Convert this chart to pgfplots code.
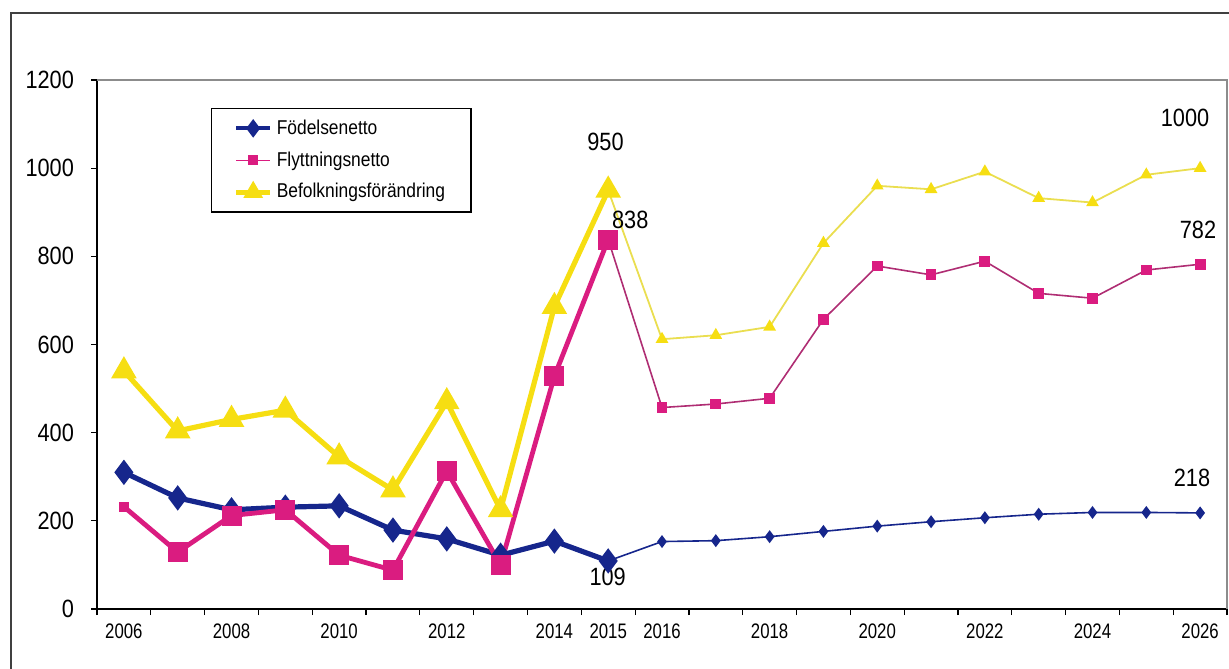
\documentclass[border=0pt]{standalone}
\usepackage{fontspec}
\setmainfont{Liberation Sans}
\newfontfamily\cnd[FakeStretch=0.87]{Liberation Sans}
\newfontfamily\cndx[FakeStretch=0.80]{Liberation Sans}
\usepackage{pgfplots}
\usepackage{pgfplotstable}
\pgfplotsset{compat=1.18}
\definecolor{cblue}{RGB}{22,38,140}
\definecolor{cmag}{RGB}{218,28,128}
\definecolor{cmagl}{RGB}{175,45,115}
\definecolor{cyel}{RGB}{246,222,18}
\definecolor{cyell}{RGB}{234,222,80}

\pgfplotstableread{
x fod fly bef
0 310 232 540
1 252 129 404
2 225 212 430
3 231 225 451
4 234 122 345
5 179 88 270
6 159 313 470
7 122 100 225
8 154 528 686
9 109 838 950
}\hist

\pgfplotstableread{
x fod fly bef
9 109 838 950
10 153 457 612
11 155 465 621
12 164 478 640
13 176 657 830
14 188 778 960
15 198 758 952
16 207 789 992
17 215 716 932
18 219 705 922
19 219 769 985
20 218 782 1000
}\proj

\begin{document}
\begin{tikzpicture}
\useasboundingbox (-48.5pt,-29.5pt) rectangle (566pt,304.5pt);
\draw[black!75, line width=0.8pt] (-43pt,-80pt) rectangle (620pt,298pt);
\begin{axis}[
  at={(0,0)}, anchor=south west,
  scale only axis, width=565pt, height=264.5pt,
  xmin=-0.5, xmax=20.5, ymin=0, ymax=1200,
  axis x line*=bottom, axis y line*=left,
  axis line style={-, black, line width=0.6pt},
  tick align=outside, major tick length=3pt,
  tick style={black, line width=0.6pt},
  xtick={-0.5,0.5,...,20.5}, xticklabels={},
  extra x ticks={0,2,4,6,8,9,10,12,14,16,18,20},
  extra x tick labels={2006,2008,2010,2012,2014,2015,2016,2018,2020,2022,2024,2026},
  extra x tick style={major tick length=0pt, tick label style={yshift=-4pt}},
  xticklabel style={font=\cndx\fontsize{10.5}{12}\selectfont},
  ytick={0,200,...,1200},
  yticklabel style={font=\cnd\fontsize{12.5}{14}\selectfont, xshift=-5pt},
  /pgf/number format/assume math mode=true,
  /pgf/number format/1000 sep={},
  legend style={at={(0.1009,0.947)}, anchor=north west, draw=black, line width=0.6pt,
    font=\cnd\fontsize{10}{12}\selectfont, row sep=3.2pt, inner xsep=11pt, inner ysep=3.5pt,
    /tikz/every even column/.append style={column sep=-2pt}},
  legend cell align=left,
  clip=false,
]
\addlegendimage{cblue, line width=2pt, mark=diamond*, mark size=3pt}
\addlegendentry{Födelsenetto}
\addlegendimage{cmag, line width=0.6pt, mark=square*, mark size=2.2pt}
\addlegendentry{Flyttningsnetto}
\addlegendimage{cyel, line width=2.5pt, mark=triangle*, mark size=3.2pt}
\addlegendentry{Befolkningsförändring}

% projections (thin)
\addplot[cblue, line width=0.8pt, mark=diamond*, mark size=2.6pt, mark indices={2,...,12}, forget plot] table[x=x,y=fod]{\proj};
\addplot[cmagl, line width=0.8pt, mark=square*, mark options={cmag}, mark size=2.3pt, mark indices={2,...,12}, forget plot] table[x=x,y=fly]{\proj};
\addplot[cyell, line width=0.9pt, mark=triangle*, mark options={cyel}, mark size=2.8pt, mark indices={2,...,12}, forget plot] table[x=x,y=bef]{\proj};

% history (thick)
\addplot[cblue, line width=2.6pt, mark=diamond*, mark size=4.2pt, mark options={solid}, forget plot] table[x=x,y=fod]{\hist};
\addplot[cmag, line width=2.4pt, mark=square*, mark size=3.8pt, mark options={solid}, mark indices={2,...,10}, forget plot] table[x=x,y=fly]{\hist};
\addplot[only marks, cmag, mark=square*, mark size=2.4pt, mark indices={1}, forget plot] table[x=x,y=fly]{\hist};
\addplot[cyel, line width=2.6pt, mark=triangle*, mark size=4.8pt, mark options={solid}, forget plot] table[x=x,y=bef]{\hist};

\draw[black!45, line width=0.6pt] (rel axis cs:0,1) -- (rel axis cs:1,1) -- (rel axis cs:1,0);

\begin{scope}[every node/.style={font=\cnd\fontsize{12.5}{14}\selectfont, inner sep=0pt}]
\node at (axis cs:8.95,1059) {950};
\node at (axis cs:9.41,882) {838};
\node at (axis cs:8.99,73) {109};
\node at (axis cs:19.72,1114) {1000};
\node at (axis cs:19.96,860) {782};
\node at (axis cs:19.85,297) {218};
\end{scope}
\end{axis}
\end{tikzpicture}
\end{document}
